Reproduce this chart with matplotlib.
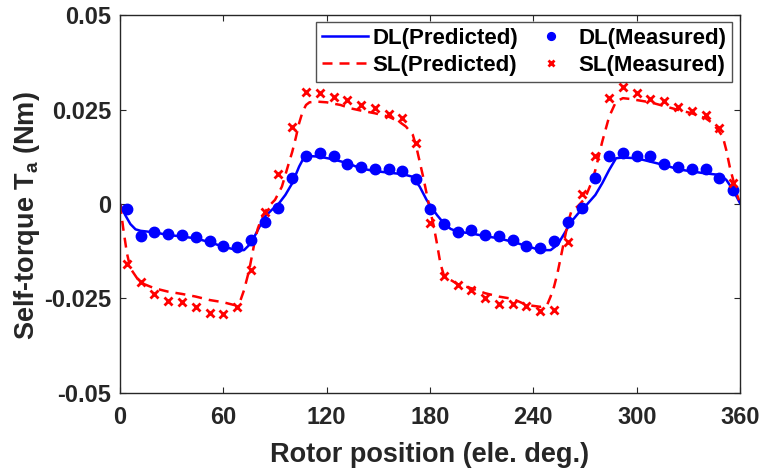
import matplotlib
matplotlib.use("Agg")
import matplotlib.pyplot as plt

plt.rcParams['font.family'] = ['Liberation Sans', 'DejaVu Sans']
plt.rcParams['font.weight'] = 'bold'
plt.rcParams['mathtext.fontset'] = 'custom'
plt.rcParams['mathtext.rm'] = 'Liberation Sans:bold'
plt.rcParams['mathtext.bf'] = 'Liberation Sans:bold'
plt.rcParams['mathtext.it'] = 'Liberation Sans:bold'

# Measured rotor positions (ele. deg.)
theta_meas = [4, 12, 20, 28, 36, 44, 52, 60, 68, 76, 84, 92, 100, 108, 116,
              124, 132, 140, 148, 156, 164, 172, 180, 188, 196, 204, 212, 220,
              228, 236, 244, 252, 260, 268, 276, 284, 292, 300, 308, 316, 324,
              332, 340, 348, 356]

# Measured self-torque, double-layer winding (Nm)
dl_meas = [-0.0013, -0.0084, -0.0075, -0.0080, -0.0082, -0.0086, -0.0097,
           -0.0110, -0.0115, -0.0095, -0.0047, -0.0011, 0.0070, 0.0127,
           0.0134, 0.0127, 0.0105, 0.0099, 0.0092, 0.0092, 0.0088, 0.0066,
           -0.0013, -0.0053, -0.0075, -0.0069, -0.0082, -0.0085, -0.0095,
           -0.0110, -0.0116, -0.0097, -0.0047, -0.0010, 0.0070, 0.0127,
           0.0134, 0.0127, 0.0127, 0.0105, 0.0099, 0.0092, 0.0092, 0.0070,
           0.0037]

# Measured self-torque, single-layer winding (Nm)
sl_meas = [-0.0159, -0.0207, -0.0239, -0.0256, -0.0258, -0.0273, -0.0289,
           -0.0292, -0.0272, -0.0175, -0.0022, 0.0079, 0.0205, 0.0297,
           0.0293, 0.0284, 0.0275, 0.0262, 0.0253, 0.0238, 0.0227, 0.0161,
           -0.0049, -0.0191, -0.0214, -0.0228, -0.0248, -0.0265, -0.0265,
           -0.0270, -0.0282, -0.0280, -0.0101, 0.0026, 0.0127, 0.0280,
           0.0309, 0.0293, 0.0277, 0.0273, 0.0257, 0.0247, 0.0235, 0.0202,
           0.0056]

# Predicted self-torque, double-layer winding
dl_pred_theta = [0, 3, 6, 9, 12, 20, 28, 36, 44, 52, 60, 68, 72, 76, 80, 84,
                 88, 92, 96, 100, 104, 107, 110, 116, 124, 132, 140, 148, 156,
                 164, 170, 174, 178, 180, 184, 188, 192, 196, 204, 212, 220,
                 228, 236, 244, 250, 254, 258, 262, 266, 270, 276, 280, 284,
                 288, 292, 300, 308, 316, 324, 332, 340, 348, 352, 356, 360]
dl_pred = [0.0, -0.0029, -0.0053, -0.0067, -0.0071, -0.0075, -0.0082,
           -0.0086, -0.0091, -0.0101, -0.0113, -0.0122, -0.0122, -0.0104,
           -0.0069, -0.0034, -0.0016, 0.0000, 0.0024, 0.0055, 0.0099, 0.0125,
           0.0127, 0.0125, 0.0118, 0.0108, 0.0094, 0.0087, 0.0083, 0.0079,
           0.0072, 0.0046, 0.0011, -0.0003, -0.0029, -0.0051, -0.0066,
           -0.0073, -0.0078, -0.0085, -0.0091, -0.0100, -0.0111, -0.0122,
           -0.0122, -0.0108, -0.0078, -0.0047, -0.0025, -0.0007, 0.0024,
           0.0055, 0.0090, 0.0121, 0.0123, 0.0121, 0.0112, 0.0103, 0.0092,
           0.0086, 0.0081, 0.0077, 0.0064, 0.0037, 0.0002]

# Predicted self-torque, single-layer winding
sl_pred_theta = [0, 2, 4, 6, 10, 14, 20, 28, 36, 44, 52, 60, 66, 70, 72, 75,
                 78, 80, 82, 84, 87, 90, 94, 98, 100, 102, 104, 106, 108, 110,
                 114, 120, 128, 134, 140, 148, 156, 162, 166, 170, 172, 174,
                 176, 178, 180, 182, 184, 186, 188, 192, 196, 204, 212, 220,
                 228, 236, 244, 248, 250, 252, 254, 256, 258, 260, 262, 266,
                 270, 274, 276, 280, 284, 288, 292, 296, 300, 308, 316, 324,
                 332, 340, 344, 348, 350, 352, 354, 356, 358, 360]
sl_pred = [0.0, -0.0069, -0.0130, -0.0170, -0.0197, -0.0212, -0.0223,
           -0.0232, -0.0238, -0.0245, -0.0254, -0.0260, -0.0267, -0.0254,
           -0.0228, -0.0175, -0.0104, -0.0065, -0.0040, -0.0022, -0.0003,
           0.0011, 0.0046, 0.0108, 0.0138, 0.0174, 0.0214, 0.0244, 0.0262,
           0.0269, 0.0271, 0.0269, 0.0262, 0.0253, 0.0247, 0.0240, 0.0231,
           0.0218, 0.0205, 0.0183, 0.0152, 0.0112, 0.0072, 0.0028, -0.0016,
           -0.0055, -0.0104, -0.0157, -0.0188, -0.0201, -0.0212, -0.0223,
           -0.0236, -0.0245, -0.0251, -0.0267, -0.0272, -0.0267, -0.0245,
           -0.0219, -0.0183, -0.0139, -0.0095, -0.0051, -0.0020, -0.0005,
           0.0015, 0.0060, 0.0090, 0.0165, 0.0231, 0.0271, 0.0280, 0.0278,
           0.0275, 0.0269, 0.0259, 0.0249, 0.0240, 0.0227, 0.0214, 0.0191,
           0.0178, 0.0143, 0.0099, 0.0064, 0.0028, 0.0002]

x_ticks = [0, 60, 120, 180, 240, 300, 360]
y_ticks = [-0.05, -0.025, 0, 0.025, 0.05]
y_tick_labels = ['-0.05', '-0.025', '0', '0.025', '0.05']

fig = plt.figure(figsize=(7.63, 4.72), dpi=100)
ax = fig.add_axes([0.1573, 0.1674, 0.8126, 0.8008])

blue = '#0000ff'
red = '#ff0000'
dark = '#262626'

h1, = ax.plot(dl_pred_theta, dl_pred, '-', color=blue, lw=1.8,
              label='DL(Predicted)')
h2, = ax.plot(sl_pred_theta, sl_pred, '--', color=red, lw=1.8,
              dashes=(4, 2.8), label='SL(Predicted)')
h3, = ax.plot(theta_meas, dl_meas, 'o', color=blue, ms=7.5, mec=blue,
              label='DL(Measured)')
h4, = ax.plot(theta_meas, sl_meas, 'x', color=red, ms=6, mew=2,
              label='SL(Measured)')

ax.set_xlim(0, 360)
ax.set_ylim(-0.05, 0.05)
ax.set_xticks(x_ticks)
ax.set_yticks(y_ticks)
ax.set_yticklabels(y_tick_labels)

for s in ax.spines.values():
    s.set_color(dark)
    s.set_linewidth(1.0)
ax.tick_params(direction='in', top=True, right=True, length=4.5,
               width=0.8, color=dark, labelsize=17, labelcolor=dark)
ax.tick_params(axis='x', pad=9.5)
ax.tick_params(axis='y', pad=6.5)
for lab in ax.get_xticklabels() + ax.get_yticklabels():
    lab.set_fontweight('bold')

ax.set_xlabel('Rotor position (ele. deg.)', fontsize=19.5, fontweight='bold',
              color=dark, labelpad=9)
ax.set_ylabel(r'Self-torque T$_{\mathbf{a}}$ (Nm)', fontsize=19.5,
              fontweight='bold', color=dark)
ax.yaxis.set_label_coords(-0.126, 0.47)

leg = ax.legend(handles=[h1, h2, h3, h4], ncol=2, loc='upper right',
                bbox_to_anchor=(0.987, 0.9815),
                prop={'weight': 'bold', 'size': 16},
                frameon=True, fancybox=False, handlelength=2.1,
                columnspacing=0.4, handletextpad=0.2, labelspacing=0.3,
                borderpad=0.25, markerscale=0.75, borderaxespad=0.0)
leg.get_frame().set_edgecolor(dark)
leg.get_frame().set_linewidth(1.0)

fig.savefig('out.png', dpi=100)
